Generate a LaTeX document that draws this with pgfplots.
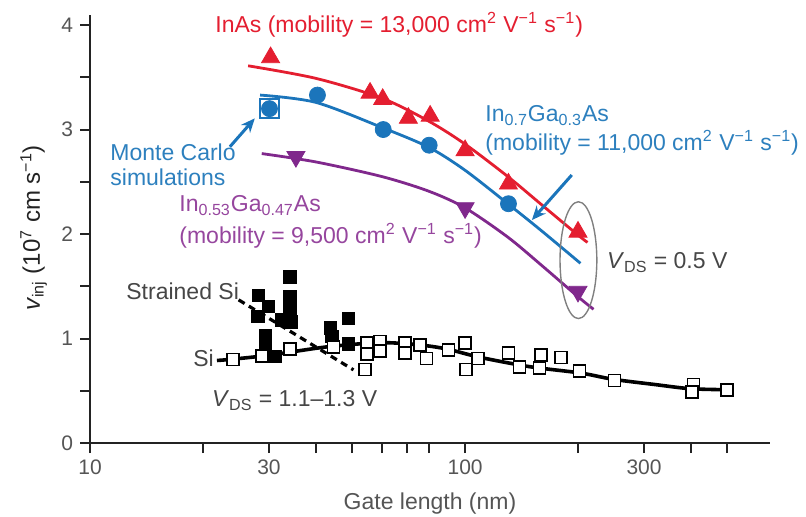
\documentclass[border=0pt]{standalone}
\usepackage{pgfplots}
\pgfplotsset{compat=1.18}
\usepackage{fontspec}
\setmainfont{Liberation Sans}
\usetikzlibrary{arrows.meta}
\definecolor{cred}{RGB}{228,30,48}
\definecolor{cblue}{RGB}{27,117,187}
\definecolor{cbluet}{RGB}{45,128,190}
\definecolor{cpurp}{RGB}{128,40,140}
\definecolor{cpurpt}{RGB}{150,70,158}
\definecolor{ctext}{RGB}{70,70,70}
\definecolor{axisc}{RGB}{35,35,35}
\definecolor{labc}{RGB}{85,85,85}
\newcommand\af{\fontsize{11.5}{13.5}\selectfont}
\begin{document}
\begin{tikzpicture}
\useasboundingbox (-45pt,-36.5pt) rectangle (358pt,221.5pt);
\begin{axis}[
  at={(0,0)}, anchor=south west,
  scale only axis, width=340pt, height=214.2pt,
  xmode=log, xmin=10, xmax=650, ymin=0, ymax=4.1,
  axis lines=left, axis line style={-, line width=1.2pt, color=axisc},
  xtick={10,20,30,40,50,60,70,80,100,200,300,400,500},
  xticklabels={10,,30,,,,,,100,,300,,},
  ytick={0,0.5,1,1.5,2,2.5,3,3.5,4},
  yticklabels={0,,1,,2,,3,,4},
  minor tick num=0,
  tick align=outside, major tick length=5pt,
  tick style={line width=1pt, color=axisc},
  tick label style={font=\fontsize{10.5}{12}\selectfont, text=labc},
  /pgf/number format/assume math mode=true,
  clip=false,
]
% Strained Si
\addplot[only marks, mark=square*, mark size=3.1pt, black, mark options={fill=black}] coordinates {
(28.1,1.41)(29.9,1.31)(28.0,1.21)(34.1,1.59)(34.1,1.40)(34.1,1.27)(34.3,1.16)(32.4,1.18)
(29.3,1.03)(29.3,0.92)(31.1,0.83)(43.7,1.10)(44.1,1.02)(48.9,1.19)(48.9,0.95)};
% Si line
\addplot[black, line width=1.8pt, smooth] coordinates {
(21.8,0.79)(23.6,0.80)(30,0.84)(42.8,0.92)(59.3,0.96)(75,0.94)(89.3,0.90)(109.6,0.82)
(149,0.73)(203,0.67)(248,0.61)(320,0.56)(398,0.52)(499,0.51)};
% Si squares
\addplot[only marks, mark=square*, mark size=3.0pt, mark options={fill=white, draw=black, line width=0.8pt}] coordinates {
(24.1,0.80)(28.7,0.83)(34.1,0.90)(44.6,0.92)(54.7,0.96)(54.7,0.85)(54.1,0.705)(59.3,0.97)
(59.3,0.88)(69.2,0.955)(69.2,0.86)(75.9,0.94)(79.0,0.81)(90.3,0.89)(100,0.96)(100.4,0.705)
(108.4,0.81)(130.5,0.86)(139.6,0.73)(159.2,0.84)(157.8,0.72)(180.3,0.82)(201.9,0.69)
(250,0.60)(406,0.56)(402,0.49)(499,0.51)};
% Strained Si dashed trend
\addplot[black, line width=1.6pt, dash pattern=on 3.5pt off 2.5pt] coordinates {(24.9,1.37)(50.4,0.70)};
% InAs
\addplot[cred, line width=1.4pt, smooth] coordinates {
(26.4,3.61)(40,3.49)(60,3.30)(80,3.08)(100,2.86)(130,2.55)(160,2.28)(200,1.99)(212,1.92)};
\addplot[only marks, mark=triangle*, mark size=5.2pt, cred] coordinates {
(30.3,3.69)(55.8,3.35)(60.3,3.29)(70.6,3.11)(80.7,3.13)(100,2.80)(130.5,2.48)(200,2.02)};
% In0.7Ga0.3As
\addplot[cblue, line width=1.4pt, smooth] coordinates {
(28.4,3.33)(40,3.26)(60,3.02)(80,2.83)(100,2.61)(130,2.29)(160,2.03)(203,1.72)};
\addplot[only marks, mark=square, mark size=4.7pt, cblue, line width=1.1pt] coordinates {(30.1,3.20)};
\addplot[only marks, mark=*, mark size=4pt, cblue] coordinates {
(30.1,3.20)(40.4,3.33)(60.5,3.00)(80.2,2.85)(130.5,2.29)};
% In0.53Ga0.47As
\addplot[cpurp, line width=1.4pt, smooth] coordinates {
(28.7,2.77)(40,2.69)(60,2.55)(80,2.41)(100,2.25)(130,1.97)(160,1.70)(200,1.40)(220,1.28)};
\addplot[only marks, mark=triangle*, mark size=5.2pt, cpurp, mark options={rotate=180}] coordinates {
(35.4,2.74)(100,2.25)(200,1.45)};
% arrows and ellipse
\draw[cblue, line width=1.5pt, -{Stealth[length=7pt,width=6pt]}] (axis cs:23.6,2.835) -- (axis cs:27.5,3.107);
\draw[cblue, line width=1.5pt, -{Stealth[length=7pt,width=6pt]}] (axis cs:192.5,2.565) -- (axis cs:150.7,2.134);
\draw[gray, line width=0.7pt] (axis cs:200.5,1.75) ellipse [x radius=9.2pt, y radius=29.2pt];
\end{axis}
% labels
\node[anchor=base, text=labc, font=\fontsize{11.5}{13}\selectfont] at (170pt,-33.3pt) {Gate length (nm)};
\node[rotate=90, anchor=base, text=axisc, font=\fontsize{12}{14}\selectfont] at (-25pt,107.5pt) {\textit{v}\textsubscript{inj} (10\textsuperscript{7} cm s\textsuperscript{−1})};
\node[anchor=base west, inner sep=0pt, text=cred, font=\af] at (62.5pt,205.5pt) {InAs (mobility = 13,000 cm\textsuperscript{2} V\textsuperscript{−1} s\textsuperscript{−1})};
\node[anchor=base west, inner sep=0pt, text=cbluet, font=\af] at (197.5pt,160.7pt) {In\textsubscript{0.7}Ga\textsubscript{0.3}As};
\node[anchor=base west, inner sep=0pt, text=cbluet, font=\af] at (197.5pt,146.5pt) {(mobility = 11,000 cm\textsuperscript{2} V\textsuperscript{−1} s\textsuperscript{−1})};
\node[anchor=base west, inner sep=0pt, text=cbluet, font=\af] at (10pt,141.5pt) {Monte Carlo};
\node[anchor=base west, inner sep=0pt, text=cbluet, font=\af] at (10pt,129pt) {simulations};
\node[anchor=base west, inner sep=0pt, text=cpurpt, font=\af] at (44.5pt,115.7pt) {In\textsubscript{0.53}Ga\textsubscript{0.47}As};
\node[anchor=base west, inner sep=0pt, text=cpurpt, font=\af] at (44.5pt,100pt) {(mobility = 9,500 cm\textsuperscript{2} V\textsuperscript{−1} s\textsuperscript{−1})};
\node[anchor=base west, inner sep=0pt, text=ctext, font=\af] at (18pt,72pt) {Strained Si};
\node[anchor=base west, inner sep=0pt, text=ctext, font=\af] at (51.5pt,38.2pt) {Si};
\node[anchor=base west, inner sep=0pt, text=ctext, font=\af] at (60.8pt,18.2pt) {\textit{V}\textsubscript{DS} = 1.1–1.3 V};
\node[anchor=base west, inner sep=0pt, text=ctext, font=\af] at (258.3pt,87.3pt) {\textit{V}\textsubscript{DS} = 0.5 V};
\end{tikzpicture}
\end{document}
